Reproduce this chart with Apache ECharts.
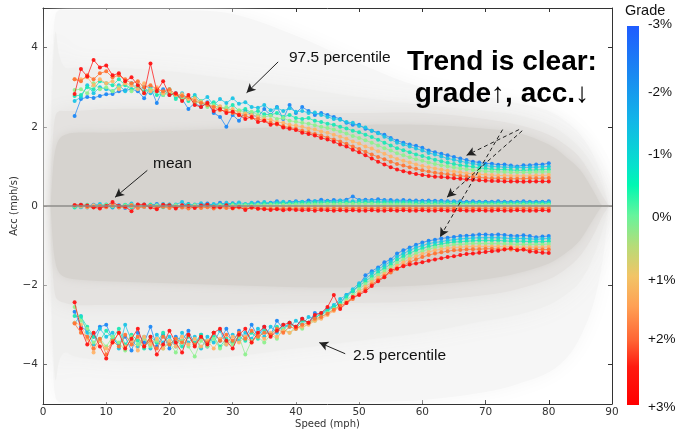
<!DOCTYPE html>
<html><head><meta charset="utf-8">
<script src="https://cdn.jsdelivr.net/npm/echarts@6/dist/echarts.min.js"></script>
<style>html,body{margin:0;padding:0;background:#fff}#c{width:682px;height:432px}</style>
</head><body><div id="c"></div>
<script>
// ---------- DATA ----------
const speeds = [5,6,7,8,9,10,11,12,13,14,15,16,17,18,19,20,21,22,23,24,25,26,27,28,29,30,31,32,33,34,35,36,37,38,39,40,41,42,43,44,45,46,47,48,49,50,51,52,53,54,55,56,57,58,59,60,61,62,63,64,65,66,67,68,69,70,71,72,73,74,75,76,77,78,79,80];
const grades = ['-3%','-2%','-1%','0%','+1%','+2%','+3%'];
const gradeColors = ['#1e88f5','#1cc4e6','#1de8b4','#8ef08e','#ffb46a','#ff7535','#ff1414'];

// 97.5 percentile, per grade
const hi_m3 = [2.27,2.7,2.75,2.73,2.78,2.82,2.83,2.9,2.92,2.95,2.9,2.72,3.0,2.6,2.95,2.8,2.85,2.7,2.45,2.6,2.5,2.62,2.35,2.25,2.0,2.3,2.15,2.4,2.3,2.25,2.45,2.3,2.5,2.2,2.55,2.35,2.5,2.4,2.3,2.35,2.3,2.25,2.2,2.1,2.05,2.05,1.95,1.9,1.85,1.8,1.72,1.65,1.6,1.55,1.52,1.47,1.4,1.36,1.32,1.28,1.24,1.2,1.16,1.12,1.1,1.07,1.07,1.04,1.05,1.02,1.0,1.03,1.03,1.05,1.05,1.08];
const hi_m2 = [2.65,2.75,3.05,2.85,3.0,2.95,2.9,3.05,2.9,3.1,2.95,3.0,2.85,2.95,2.8,2.9,2.75,2.85,2.7,2.8,2.65,2.75,2.55,2.7,2.6,2.72,2.58,2.62,2.5,2.48,2.55,2.42,2.48,2.4,2.47,2.38,2.4,2.35,2.36,2.3,2.25,2.2,2.18,2.12,2.1,2.02,1.98,1.9,1.84,1.75,1.68,1.6,1.55,1.5,1.45,1.4,1.34,1.3,1.25,1.2,1.17,1.13,1.1,1.07,1.04,1.02,1.0,0.99,0.98,0.98,0.97,0.97,0.98,0.98,0.99,1.0];
const hi_m1 = [2.78,2.8,3.0,2.95,3.15,3.1,3.05,3.2,3.05,2.95,3.0,2.9,2.95,2.8,2.85,2.95,2.7,2.8,2.65,2.75,2.6,2.55,2.62,2.5,2.45,2.55,2.4,2.45,2.35,2.4,2.32,2.3,2.35,2.25,2.3,2.22,2.2,2.22,2.15,2.12,2.08,2.05,2.0,1.96,1.9,1.86,1.8,1.74,1.67,1.6,1.53,1.46,1.41,1.36,1.3,1.26,1.21,1.17,1.13,1.09,1.06,1.03,1.01,0.99,0.96,0.95,0.93,0.92,0.92,0.91,0.9,0.9,0.91,0.91,0.92,0.93];
const hi_0  = [2.93,2.95,2.85,3.1,2.95,3.0,2.9,3.0,3.1,2.9,3.05,2.85,2.95,2.9,2.8,2.85,2.8,2.7,2.72,2.6,2.65,2.5,2.55,2.45,2.5,2.4,2.42,2.35,2.38,2.3,2.25,2.28,2.2,2.22,2.15,2.13,2.1,2.08,2.04,2.0,1.97,1.93,1.88,1.83,1.77,1.72,1.66,1.6,1.53,1.46,1.4,1.33,1.28,1.23,1.18,1.14,1.1,1.06,1.03,1.0,0.97,0.95,0.93,0.91,0.89,0.88,0.87,0.86,0.86,0.85,0.85,0.85,0.85,0.86,0.86,0.86];
const hi_p1 = [3.2,3.2,3.25,3.05,3.2,3.1,3.15,2.95,3.1,3.05,2.95,3.1,2.9,3.0,2.85,2.9,2.8,2.82,2.7,2.72,2.62,2.6,2.5,2.52,2.42,2.45,2.35,2.33,2.3,2.25,2.2,2.18,2.12,2.1,2.05,2.03,2.0,1.96,1.93,1.88,1.85,1.8,1.75,1.7,1.63,1.58,1.5,1.45,1.38,1.32,1.25,1.19,1.14,1.1,1.05,1.01,0.98,0.95,0.92,0.89,0.87,0.85,0.83,0.81,0.8,0.79,0.78,0.77,0.77,0.76,0.76,0.76,0.76,0.77,0.77,0.78];
const hi_p2 = [3.2,3.15,3.3,3.2,3.35,3.4,3.25,3.3,3.2,3.1,3.15,3.0,3.05,2.95,2.9,2.95,2.82,2.78,2.75,2.65,2.6,2.55,2.5,2.42,2.4,2.35,2.3,2.28,2.22,2.2,2.15,2.1,2.06,2.02,1.98,1.95,1.9,1.86,1.82,1.78,1.73,1.68,1.63,1.57,1.5,1.44,1.37,1.3,1.24,1.18,1.12,1.06,1.02,0.98,0.94,0.9,0.87,0.84,0.82,0.8,0.78,0.76,0.75,0.73,0.72,0.71,0.7,0.7,0.69,0.69,0.69,0.69,0.7,0.7,0.7,0.71];
const hi_p3 = [2.83,3.46,3.27,3.69,3.5,3.55,3.3,3.35,3.15,3.25,3.05,2.85,3.6,2.9,3.15,2.8,2.85,2.65,2.8,2.55,2.5,2.6,2.4,2.45,2.35,2.38,2.3,2.2,2.25,2.12,2.15,2.05,2.08,1.98,1.95,1.92,1.85,1.82,1.78,1.72,1.68,1.62,1.55,1.5,1.42,1.36,1.28,1.2,1.12,1.05,0.98,0.92,0.88,0.84,0.81,0.78,0.76,0.74,0.73,0.72,0.7,0.69,0.67,0.66,0.65,0.64,0.63,0.63,0.62,0.62,0.62,0.61,0.62,0.62,0.62,0.62];

// mean, per grade
const mean_m3 = [0.02,-0.03,0.0,0.03,-0.02,0.01,-0.04,0.02,-0.05,0.0,0.03,-0.02,0.02,0.05,0.0,0.04,-0.03,0.02,0.05,0.0,0.03,0.06,0.02,0.08,0.04,0.07,0.03,-0.06,0.06,0.09,0.05,0.08,0.12,0.06,0.1,0.12,0.1,0.14,0.12,0.16,0.13,0.15,0.14,0.16,0.24,0.15,0.16,0.15,0.17,0.15,0.15,0.14,0.15,0.14,0.14,0.13,0.14,0.13,0.13,0.12,0.12,0.12,0.11,0.12,0.11,0.11,0.11,0.12,0.11,0.11,0.11,0.12,0.11,0.11,0.11,0.12];
const mean_m2 = [-0.02,0.03,-0.04,0.02,0.05,-0.02,0.03,-0.03,0.02,0.06,-0.02,0.04,0.0,-0.03,0.05,0.0,0.04,0.1,0.0,0.04,0.07,0.02,0.05,0.03,0.08,0.04,0.09,0.05,0.08,0.06,0.1,0.07,0.09,0.11,0.08,0.1,0.11,0.09,0.12,0.1,0.12,0.11,0.13,0.12,0.12,0.13,0.12,0.12,0.12,0.12,0.11,0.12,0.11,0.11,0.11,0.1,0.11,0.1,0.1,0.1,0.1,0.09,0.09,0.09,0.09,0.09,0.09,0.09,0.09,0.09,0.09,0.09,0.09,0.09,0.09,0.09];
const mean_m1 = [-0.04,0.0,0.03,-0.03,0.01,0.04,-0.02,0.0,0.03,-0.04,0.02,-0.01,0.04,0.0,-0.03,0.03,0.0,-0.02,0.04,0.01,-0.01,0.03,0.0,0.04,0.02,0.05,0.02,0.04,0.05,0.03,0.06,0.05,0.06,0.07,0.06,0.07,0.08,0.07,0.08,0.08,0.09,0.08,0.09,0.09,0.09,0.09,0.09,0.09,0.09,0.08,0.08,0.08,0.08,0.08,0.07,0.07,0.07,0.07,0.07,0.07,0.06,0.06,0.06,0.06,0.06,0.06,0.06,0.06,0.06,0.06,0.06,0.06,0.06,0.06,0.06,0.06];
const mean_0  = [0.0,-0.02,0.02,0.0,-0.03,0.02,0.0,-0.02,0.01,0.03,-0.02,0.01,-0.01,0.02,0.0,-0.02,0.02,0.0,-0.01,0.02,0.0,0.01,-0.01,0.02,0.0,0.02,0.01,0.02,0.01,0.03,0.02,0.03,0.02,0.03,0.03,0.04,0.03,0.04,0.04,0.04,0.05,0.04,0.05,0.05,0.05,0.05,0.05,0.05,0.04,0.04,0.04,0.04,0.04,0.04,0.03,0.03,0.03,0.03,0.03,0.03,0.03,0.03,0.03,0.03,0.03,0.03,0.03,0.03,0.03,0.03,0.03,0.03,0.03,0.03,0.03,0.03];
const mean_p1 = [0.01,0.0,-0.03,0.02,0.0,-0.02,0.02,-0.01,-0.03,0.0,0.02,-0.02,0.0,-0.03,0.01,-0.01,-0.03,0.0,-0.02,-0.01,-0.03,0.0,-0.02,-0.01,-0.03,-0.01,-0.02,-0.03,-0.02,-0.02,-0.03,-0.02,-0.03,-0.02,-0.03,-0.03,-0.03,-0.03,-0.03,-0.03,-0.03,-0.03,-0.02,-0.03,-0.03,-0.03,-0.03,-0.03,-0.03,-0.03,-0.03,-0.03,-0.03,-0.03,-0.03,-0.03,-0.03,-0.03,-0.03,-0.03,-0.03,-0.03,-0.03,-0.03,-0.03,-0.03,-0.03,-0.03,-0.03,-0.03,-0.03,-0.03,-0.03,-0.03,-0.03,-0.03];
const mean_p2 = [0.02,0.01,-0.02,-0.04,0.0,-0.03,0.01,-0.04,-0.02,0.02,-0.05,-0.02,0.0,-0.04,-0.02,-0.05,-0.02,-0.04,-0.06,-0.03,-0.05,-0.03,-0.06,-0.04,-0.05,-0.06,-0.04,-0.06,-0.05,-0.06,-0.06,-0.07,-0.06,-0.07,-0.06,-0.07,-0.07,-0.06,-0.07,-0.07,-0.07,-0.07,-0.07,-0.07,-0.07,-0.07,-0.07,-0.07,-0.07,-0.07,-0.07,-0.07,-0.07,-0.07,-0.07,-0.07,-0.07,-0.07,-0.07,-0.07,-0.07,-0.07,-0.07,-0.07,-0.07,-0.07,-0.07,-0.07,-0.07,-0.07,-0.07,-0.07,-0.07,-0.07,-0.07,-0.07];
const mean_p3 = [0.02,0.03,0.01,-0.03,-0.06,0.0,0.1,0.0,-0.02,-0.13,0.04,0.04,-0.04,-0.08,0.03,0.02,-0.06,0.02,0.0,-0.05,0.01,0.03,-0.02,-0.03,0.02,-0.05,-0.02,-0.1,-0.03,-0.07,-0.08,-0.1,-0.08,-0.11,-0.09,-0.1,-0.11,-0.1,-0.12,-0.1,-0.11,-0.12,-0.11,-0.12,-0.11,-0.12,-0.12,-0.11,-0.12,-0.12,-0.11,-0.12,-0.11,-0.12,-0.12,-0.11,-0.12,-0.12,-0.11,-0.12,-0.12,-0.11,-0.12,-0.12,-0.11,-0.12,-0.12,-0.11,-0.12,-0.12,-0.11,-0.12,-0.12,-0.12,-0.11,-0.12];

// 2.5 percentile, per grade
const lo_m3 = [-2.67,-3.05,-3.15,-3.3,-3.05,-3.0,-3.35,-3.5,-3.3,-3.65,-3.2,-3.45,-3.05,-3.55,-3.25,-3.6,-3.3,-3.4,-3.15,-3.5,-3.25,-3.55,-3.2,-3.4,-3.1,-3.45,-3.15,-3.35,-3.0,-3.3,-3.05,-3.25,-2.9,-3.1,-2.95,-3.05,-2.85,-2.95,-2.7,-2.75,-2.6,-2.55,-2.45,-2.25,-2.15,-2.0,-1.75,-1.65,-1.55,-1.42,-1.35,-1.2,-1.12,-1.05,-0.98,-0.92,-0.88,-0.85,-0.82,-0.8,-0.78,-0.76,-0.75,-0.74,-0.72,-0.72,-0.73,-0.72,-0.73,-0.75,-0.76,-0.74,-0.76,-0.79,-0.77,-0.76];
const lo_m2 = [-2.95,-2.78,-3.2,-3.5,-3.1,-3.3,-3.2,-3.6,-3.0,-3.4,-3.55,-3.3,-3.6,-3.25,-3.45,-3.3,-3.55,-3.2,-3.45,-3.3,-3.6,-3.3,-3.45,-3.15,-3.5,-3.25,-3.4,-3.2,-3.35,-3.1,-3.3,-3.05,-3.2,-3.0,-3.05,-2.9,-3.0,-2.8,-2.85,-2.7,-2.6,-2.5,-2.35,-2.25,-2.1,-1.95,-1.85,-1.7,-1.6,-1.5,-1.4,-1.28,-1.2,-1.12,-1.05,-1.0,-0.95,-0.92,-0.9,-0.87,-0.85,-0.83,-0.82,-0.81,-0.8,-0.8,-0.8,-0.8,-0.81,-0.82,-0.82,-0.82,-0.83,-0.84,-0.83,-0.82];
const lo_m1 = [-2.78,-2.8,-3.05,-3.3,-3.4,-3.15,-3.35,-3.1,-3.5,-3.25,-3.4,-3.6,-3.3,-3.45,-3.2,-3.5,-3.35,-3.55,-3.3,-3.45,-3.25,-3.5,-3.3,-3.55,-3.35,-3.45,-3.3,-3.4,-3.2,-3.35,-3.15,-3.25,-3.05,-3.15,-2.95,-3.1,-2.9,-2.95,-2.8,-2.75,-2.65,-2.55,-2.45,-2.3,-2.15,-2.02,-1.9,-1.78,-1.67,-1.57,-1.47,-1.36,-1.27,-1.19,-1.12,-1.07,-1.02,-0.99,-0.96,-0.93,-0.91,-0.9,-0.89,-0.88,-0.87,-0.87,-0.87,-0.87,-0.88,-0.89,-0.89,-0.89,-0.9,-0.9,-0.9,-0.89];
const lo_0  = [-2.55,-2.9,-3.1,-3.45,-3.35,-3.55,-3.3,-3.45,-3.65,-3.3,-3.5,-3.35,-3.55,-3.4,-3.6,-3.45,-3.7,-3.4,-3.55,-3.8,-3.4,-3.55,-3.35,-3.6,-3.4,-3.5,-3.3,-3.75,-3.4,-3.3,-3.45,-3.25,-3.35,-3.1,-3.2,-3.05,-3.1,-2.95,-2.9,-2.8,-2.7,-2.6,-2.5,-2.38,-2.25,-2.1,-1.97,-1.85,-1.74,-1.64,-1.54,-1.44,-1.35,-1.27,-1.2,-1.14,-1.09,-1.05,-1.02,-1.0,-0.98,-0.97,-0.96,-0.95,-0.95,-0.95,-0.95,-0.95,-0.96,-0.96,-0.97,-0.97,-0.97,-0.97,-0.97,-0.96];
const lo_p1 = [-2.95,-3.0,-3.35,-3.7,-3.4,-3.6,-3.45,-3.2,-3.55,-3.4,-3.65,-3.3,-3.5,-3.35,-3.6,-3.4,-3.55,-3.3,-3.5,-3.35,-3.55,-3.4,-3.6,-3.35,-3.5,-3.3,-3.45,-3.3,-3.45,-3.25,-3.35,-3.2,-3.3,-3.15,-3.2,-3.1,-3.05,-3.0,-2.9,-2.85,-2.75,-2.65,-2.55,-2.42,-2.3,-2.17,-2.04,-1.92,-1.81,-1.71,-1.61,-1.51,-1.42,-1.34,-1.27,-1.21,-1.16,-1.12,-1.09,-1.07,-1.05,-1.04,-1.03,-1.02,-1.02,-1.02,-1.02,-1.02,-1.03,-1.03,-1.04,-1.04,-1.04,-1.04,-1.04,-1.03];
const lo_p2 = [-2.97,-3.2,-3.3,-3.6,-3.35,-3.75,-3.4,-3.55,-3.25,-3.5,-3.3,-3.55,-3.4,-3.6,-3.3,-3.5,-3.35,-3.45,-3.25,-3.5,-3.3,-3.45,-3.2,-3.4,-3.25,-3.4,-3.2,-3.35,-3.15,-3.3,-3.2,-3.25,-3.1,-3.2,-3.05,-3.1,-3.0,-2.95,-2.85,-2.8,-2.72,-2.62,-2.52,-2.45,-2.35,-2.22,-2.1,-1.98,-1.87,-1.77,-1.68,-1.59,-1.5,-1.42,-1.35,-1.29,-1.24,-1.2,-1.17,-1.14,-1.12,-1.11,-1.1,-1.09,-1.09,-1.08,-1.08,-1.09,-1.09,-1.1,-1.1,-1.1,-1.1,-1.1,-1.1,-1.1];
const lo_p3 = [-2.43,-3.1,-3.5,-3.2,-3.55,-3.85,-3.45,-3.2,-3.6,-3.35,-3.1,-3.55,-3.3,-3.75,-3.5,-3.15,-3.45,-3.7,-3.25,-3.55,-3.3,-3.5,-3.2,-3.1,-3.4,-3.6,-3.25,-3.1,-3.45,-3.2,-3.05,-3.3,-3.15,-3.0,-2.95,-3.05,-2.85,-2.95,-2.75,-2.7,-2.55,-2.25,-2.6,-2.45,-2.3,-2.25,-2.15,-2.02,-1.9,-1.8,-1.62,-1.58,-1.52,-1.48,-1.45,-1.42,-1.38,-1.35,-1.32,-1.29,-1.27,-1.24,-1.21,-1.2,-1.18,-1.16,-1.14,-1.13,-1.1,-1.07,-1.12,-1.1,-1.15,-1.16,-1.18,-1.19];

// background point cloud envelopes (speed grid, upper / lower bounds per density layer)
const envSpeed = [1.2,1.6,2,2.6,3.5,5,10,20,30,40,50,60,70,75,80,83,85,87,88.5,89.5];
const cloud1Up = [2.0,4.2,4.85,4.95,4.95,4.95,4.95,4.95,4.85,4.3,3.6,3.0,2.75,2.6,2.4,2.1,1.8,1.3,0.7,0];
const cloud1Lo = [-2.0,-4.2,-4.85,-4.95,-4.95,-4.95,-4.95,-4.95,-4.95,-4.95,-4.95,-4.9,-4.7,-4.5,-4.2,-3.8,-3.3,-2.5,-1.4,0];
const cloud2Up = [1.0,3.6,4.4,3.8,3.5,3.5,3.5,3.4,3.2,3.0,2.75,2.55,2.4,2.3,2.05,1.75,1.45,1.0,0.5,0];
const cloud2Lo = [-1.0,-3.6,-4.4,-3.9,-3.7,-3.8,-3.9,-3.9,-3.8,-3.6,-3.4,-3.2,-2.9,-2.75,-2.5,-2.2,-1.9,-1.3,-0.6,0];
const cloud3Up = [0.5,1.8,2.3,2.4,2.4,2.4,2.45,2.45,2.4,2.35,2.35,2.35,2.2,2.05,1.8,1.5,1.2,0.7,0.25,0];
const cloud3Lo = [-0.5,-1.8,-2.3,-2.4,-2.45,-2.5,-2.5,-2.5,-2.5,-2.45,-2.45,-2.4,-2.25,-2.1,-1.85,-1.55,-1.25,-0.75,-0.25,0];
const cloud4Up = [0,1.0,1.45,1.7,1.8,1.85,1.85,1.9,1.95,2.0,2.05,2.05,1.95,1.85,1.55,1.2,0.9,0.4,0,0];
const cloud4Lo = [0,-1.0,-1.45,-1.7,-1.8,-1.85,-1.9,-1.95,-2.0,-2.05,-2.05,-2.0,-1.85,-1.7,-1.45,-1.15,-0.85,-0.35,0,0];

const yTicks = [-4,-2,0,2,4];
const colorbarLabels = ['-3%','-2%','-1%','0%','+1%','+2%','+3%'];

// ---------- CHART ----------
const chart = echarts.init(document.getElementById('c'), null, {renderer:'canvas'});
const hiSets = [hi_m3,hi_m2,hi_m1,hi_0,hi_p1,hi_p2,hi_p3];
const meanSets = [mean_m3,mean_m2,mean_m1,mean_0,mean_p1,mean_p2,mean_p3];
const loSets = [lo_m3,lo_m2,lo_m1,lo_0,lo_p1,lo_p2,lo_p3];
const cloudLayers = [
  {up:cloud1Up, lo:cloud1Lo, color:'#f6f6f6', blur:20},
  {up:cloud2Up, lo:cloud2Lo, color:'#efefee', blur:24},
  {up:cloud3Up, lo:cloud3Lo, color:'#e4e2e0', blur:18},
  {up:cloud4Up, lo:cloud4Lo, color:'#d6d3cf', blur:9}
];

const series = [];
series.push({
  type:'custom', z:1, silent:true, clip:true,
  data: cloudLayers.map((l,i)=>[i]),
  renderItem: function(params, api){
    const L = cloudLayers[params.dataIndex];
    const pts = [];
    envSpeed.forEach((s,i)=>pts.push(api.coord([s, L.up[i]])));
    for (let i=envSpeed.length-1;i>=0;i--) pts.push(api.coord([envSpeed[i], L.lo[i]]));
    return {type:'polygon', shape:{points:pts, smooth:0.35},
      style:{fill:L.color, shadowBlur:L.blur, shadowColor:L.color}};
  }
});
// zero line
series.push({type:'scatter', z:2, data:[], silent:true,
  markLine:{silent:true, symbol:['none','none'], label:{show:false},
    lineStyle:{color:'#8e8c8a', width:1.6, type:'solid'}, data:[{yAxis:0}]}});

function addGroup(sets){
  sets.forEach((arr,gi)=>{
    series.push({
      type:'line', z:3+gi*0.01, name:grades[gi],
      data: speeds.map((s,i)=>[s, arr[i]]),
      symbol:'circle', symbolSize:4, showSymbol:true,
      lineStyle:{color:gradeColors[gi], width:1, opacity:0.75},
      itemStyle:{color:gradeColors[gi], opacity:0.95},
      emphasis:{disabled:true}, animation:false
    });
  });
}
addGroup(hiSets); addGroup(meanSets); addGroup(loSets);

// annotation arrows in data coordinates
series.push({type:'scatter', z:6, data:[], silent:true,
  markLine:{silent:true, animation:false, symbol:['none','arrow'], symbolSize:[7,9], label:{show:false},
    lineStyle:{color:'#222', width:1, type:'solid'},
    data:[
      [{coord:[37.2,3.64]},{coord:[32.2,2.86]}],
      [{coord:[16.5,0.9]},{coord:[11.4,0.22]}],
      [{coord:[47.8,-3.73]},{coord:[43.7,-3.45]}],
      [{coord:[75.3,1.93],lineStyle:{type:[4,3]}},{coord:[67.0,1.28]}],
      [{coord:[75.8,1.9],lineStyle:{type:[4,3]}},{coord:[63.9,0.22]}],
      [{coord:[72.7,1.93],lineStyle:{type:[4,3]}},{coord:[62.8,-0.78]}]
    ]}});

const axisCommon = {
  type:'value', splitLine:{show:false}, nameMoveOverlap:false,
  axisLine:{show:true, onZero:false, lineStyle:{color:'#333', width:1}},
  axisTick:{show:true, inside:true, length:4, lineStyle:{color:'#333'}}
};
const fmt = v => v<0 ? '\u2212'+Math.abs(v) : String(v);

const option = {
  animation:false,
  backgroundColor:'#ffffff',
  grid:{left:43, right:70, top:8, bottom:28, containLabel:false, outerBoundsMode:'none'},
  xAxis:[
    Object.assign({}, axisCommon, {min:0, max:90, interval:10, position:'bottom',
      axisLabel:{color:'#333', fontSize:10.5, fontFamily:'DejaVu Sans', margin:3},
      name:'Speed (mph)', nameLocation:'middle', nameGap:15,
      nameTextStyle:{color:'#333', fontSize:10, fontFamily:'DejaVu Sans'}}),
    Object.assign({}, axisCommon, {min:0, max:90, interval:10, position:'top', axisLabel:{show:false}})
  ],
  yAxis:[
    Object.assign({}, axisCommon, {min:-5, max:5, position:'left',
      axisTick:{show:true, inside:true, length:4, lineStyle:{color:'#333'}, customValues:yTicks},
      axisLabel:{color:'#333', fontSize:10.5, fontFamily:'DejaVu Sans', margin:5, customValues:yTicks, formatter:fmt},
      name:'Acc (mph/s)', nameLocation:'middle', nameGap:24, nameRotate:90,
      nameTextStyle:{color:'#333', fontSize:10, fontFamily:'DejaVu Sans'}}),
    Object.assign({}, axisCommon, {min:-5, max:5, position:'right',
      axisTick:{show:true, inside:true, length:4, lineStyle:{color:'#333'}, customValues:yTicks},
      axisLabel:{show:false}})
  ],
  series: series,
  graphic: []
};

// text annotations and colorbar
const g = [];
const txt = (x,y,text,font) => ({type:'text', x:x, y:y, z:100,
  style:{text:text, font:font, fill:'#111', textVerticalAlign:'middle'}});
g.push(txt(289,58,'97.5 percentile','15.5px "Liberation Sans", Arial, sans-serif'));
g.push(txt(153,164,'mean','15.5px "Liberation Sans", Arial, sans-serif'));
g.push(txt(353,356,'2.5 percentile','15.5px "Liberation Sans", Arial, sans-serif'));
g.push({type:'text', x:502, y:62, z:100, style:{text:'Trend is clear:', font:'bold 28px "Liberation Sans", Arial, sans-serif', fill:'#000', textAlign:'center', textVerticalAlign:'middle'}});
g.push({type:'text', x:502, y:94, z:100, style:{text:'grade\u2191, acc.\u2193', font:'bold 28px "Liberation Sans", Arial, sans-serif', fill:'#000', textAlign:'center', textVerticalAlign:'middle'}});

const cbX = 627, cbY = 26, cbW = 12, cbH = 379;
g.push({type:'rect', z:100, shape:{x:cbX, y:cbY, width:cbW, height:cbH},
  style:{fill:new echarts.graphic.LinearGradient(0,0,0,1,[
    {offset:0.00,color:'#1f5cff'},
    {offset:0.12,color:'#1a86f2'},
    {offset:0.25,color:'#12b6e8'},
    {offset:0.37,color:'#06e2cc'},
    {offset:0.42,color:'#00f8b2'},
    {offset:0.50,color:'#66f49c'},
    {offset:0.58,color:'#b6dc78'},
    {offset:0.66,color:'#f2c466'},
    {offset:0.74,color:'#ffa054'},
    {offset:0.83,color:'#ff6434'},
    {offset:0.90,color:'#ff1a10'},
    {offset:1.00,color:'#ff0000'}
  ])}});
g.push({type:'text', x:625, y:11, z:100, style:{text:'Grade', font:'14.5px "Liberation Sans", Arial, sans-serif', fill:'#111', textVerticalAlign:'middle'}});
const cbLabelY = [24, 92, 154, 217, 280, 339, 407];
colorbarLabels.forEach((t,i)=>{
  g.push({type:'text', x:t==='0%'?652:648, y:cbLabelY[i], z:100,
    style:{text:t, font:'13.5px "Liberation Sans", Arial, sans-serif', fill:'#111', textVerticalAlign:'middle'}});
});
option.graphic = g;
chart.setOption(option);
</script>
</body></html>
